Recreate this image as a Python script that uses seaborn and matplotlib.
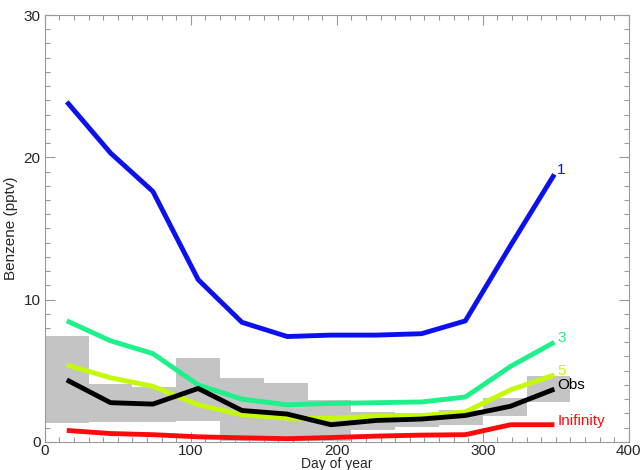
import numpy as np
import pandas as pd
import matplotlib
matplotlib.use("Agg")
import matplotlib.pyplot as plt
from matplotlib.ticker import MultipleLocator
import seaborn as sns

# Mid-month days
days = [15, 45, 74, 105, 135, 166, 196, 227, 258, 288, 319, 349]

# Model runs (labelled by parameter) and observations, benzene in pptv
run_1 = [23.9, 20.3, 17.6, 11.4, 8.4, 7.4, 7.5, 7.5, 7.6, 8.5, 13.8, 18.8]
run_3 = [8.5, 7.1, 6.2, 4.0, 3.0, 2.6, 2.7, 2.75, 2.8, 3.15, 5.3, 7.0]
run_5 = [5.4, 4.5, 3.9, 2.6, 1.9, 1.65, 1.65, 1.8, 1.85, 2.1, 3.65, 4.7]
obs = [4.35, 2.75, 2.65, 3.75, 2.2, 1.95, 1.2, 1.5, 1.6, 1.85, 2.5, 3.7]
run_inf = [0.8, 0.58, 0.5, 0.35, 0.28, 0.22, 0.3, 0.4, 0.47, 0.5, 1.2, 1.2]

# Observed monthly range (grey boxes), 30-day bins starting at day 0
box_start = [0, 30, 60, 90, 120, 150, 180, 210, 240, 270, 300, 330]
box_low = [1.33, 1.37, 1.37, 1.44, 0.05, 0.05, 0.05, 0.84, 1.05, 1.2, 1.8, 2.77]
box_high = [7.42, 4.07, 3.84, 5.9, 4.45, 4.1, 2.92, 2.1, 2.0, 2.25, 3.07, 4.63]

series = {
    "1": (run_1, "#0a10f0"),
    "3": (run_3, "#1ef08a"),
    "5": (run_5, "#c4fa08"),
    "Obs": (obs, "#000000"),
    "Inifinity": (run_inf, "#ff0a0a"),
}
label_y = {"1": 19.1, "3": 7.3, "5": 4.95, "Obs": 4.0, "Inifinity": 1.45}

sns.set_style("white")
plt.rcParams['font.family'] = ['Liberation Sans', 'DejaVu Sans']

fig = plt.figure(figsize=(6.41, 4.70), dpi=100)
ax = fig.add_axes([0.070, 0.060, 0.911, 0.908])

ax.bar(box_start, np.array(box_high) - np.array(box_low), width=30,
       bottom=box_low, align='edge', color='#c4c4c4', edgecolor='none',
       zorder=1)

for name, (vals, col) in series.items():
    df = pd.DataFrame({"day": days, "val": vals})
    sns.lineplot(data=df, x="day", y="val", ax=ax, color=col, lw=3.5,
                 zorder=3, solid_capstyle='butt')
    ax.text(351, label_y[name], name, color=col, fontsize=11,
            ha='left', va='center')

ax.set_xlim(0, 400)
ax.set_ylim(0, 30)
ax.xaxis.set_major_locator(MultipleLocator(100))
ax.xaxis.set_minor_locator(MultipleLocator(10))
ax.yaxis.set_major_locator(MultipleLocator(10))
ax.yaxis.set_minor_locator(MultipleLocator(1))
ax.tick_params(which='both', direction='in', top=True, right=True,
               bottom=True, left=True, color='#999999', labelsize=11)
ax.tick_params(axis='x', which='both', pad=1.5)
ax.tick_params(axis='y', which='both', pad=3)
ax.tick_params(which='major', length=7, width=0.8)
ax.tick_params(which='minor', length=3.5, width=0.8)
for s in ax.spines.values():
    s.set_color('#999999')
    s.set_linewidth(0.8)

ax.set_xlabel("Day of year", fontsize=10, labelpad=-0.5)
ax.set_ylabel("Benzene (pptv)", fontsize=11, labelpad=4)

fig.savefig("out.png", dpi=100)
